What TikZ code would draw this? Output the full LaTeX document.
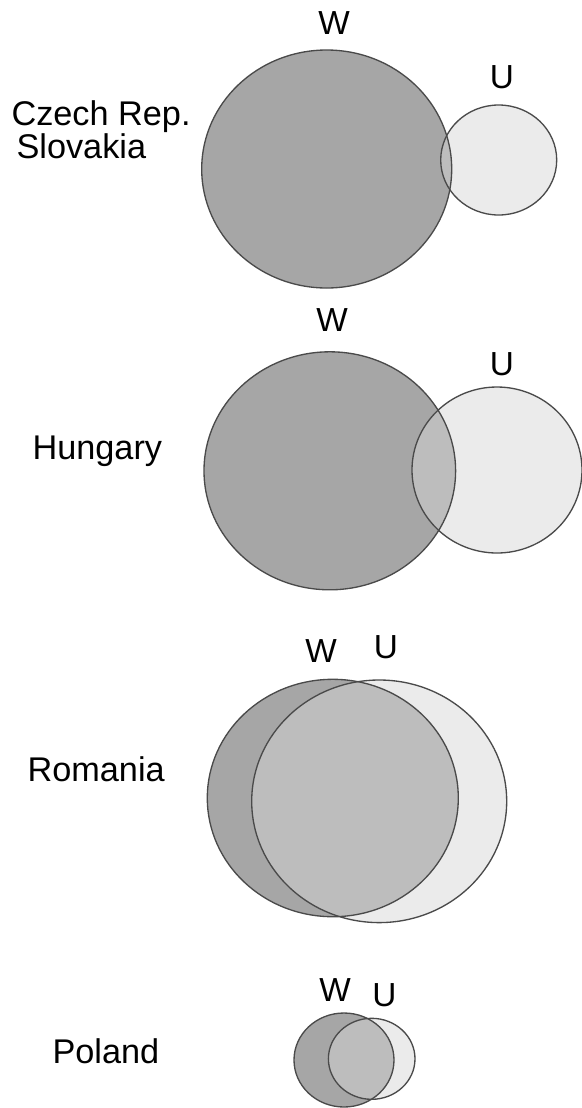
\documentclass[tikz,border=0pt]{standalone}
\usepackage{fontspec}
\setmainfont{Liberation Sans}
\definecolor{wgray}{HTML}{A6A6A6}
\definecolor{ugray}{HTML}{EBEBEB}
\definecolor{bothgray}{HTML}{BDBDBD}
\definecolor{rimgray}{HTML}{4A4A4A}
\tikzset{
  every picture/.style = {
    x = 0.75pt,
    y = -0.75pt
  }
  , % names of countries
  country/.style = {
    anchor = base west,
    inner sep = 0pt,
    font = \fontsize{25.7}{30}\selectfont
  }
  , % labels of the sets
  setname/.style = {
    anchor = base,
    inner sep = 0pt,
    font = \fontsize{25}{30}\selectfont
  }
  ,
  rim/.style = {
    draw = rimgray,
    line width = 1pt
  }
}
% W at (#1,#2) radii #3,#4; U at (#5,#6) radii #7,#8
\newcommand{\vennpair}[8]{%
  \fill[wgray] (#1,#2) ellipse [x radius=#3, y radius=#4];
  \fill[ugray] (#5,#6) ellipse [x radius=#7, y radius=#8];
  \begin{scope}
    \clip (#1,#2) ellipse [x radius=#3, y radius=#4];
    \fill[bothgray] (#5,#6) ellipse [x radius=#7, y radius=#8];
  \end{scope}
  \draw[rim] (#1,#2) ellipse [x radius=#3, y radius=#4];
  \draw[rim] (#5,#6) ellipse [x radius=#7, y radius=#8];
}
\begin{document}
\begin{tikzpicture}
\useasboundingbox (0,0) rectangle (582,1108);

\vennpair{326.7}{169}{125}{119}{498.7}{160}{58}{55}
\node [country] (czech) at (11.3,125) {Czech Rep.};
\node [country] (slovakia) at (16.3,158) {Slovakia};
\node [setname] (w1) at (334,34) {W};
\node [setname] (u1) at (502,88) {U};

\vennpair{329.8}{470.8}{125.8}{119}{497}{470}{85}{83}
\node [country] (hungary) at (32.3,459.3) {Hungary};
\node [setname] (w2) at (332,331.5) {W};
\node [setname] (u2) at (502,375) {U};

\vennpair{332.8}{798}{125.5}{118.7}{379.2}{801.3}{127.5}{121.3}
\node [country] (romania) at (27.3,781.7) {Romania};
\node [setname] (w3) at (321,662) {W};
\node [setname] (u3) at (386,658) {U};

\vennpair{344}{1060}{50}{47}{371.7}{1058.8}{43.3}{40.5}
\node [country] (poland) at (52.3,1063.3) {Poland};
\node [setname] (w4) at (335,1001.7) {W};
\node [setname] (u4) at (384.5,1006) {U};
\end{tikzpicture}
\end{document}
